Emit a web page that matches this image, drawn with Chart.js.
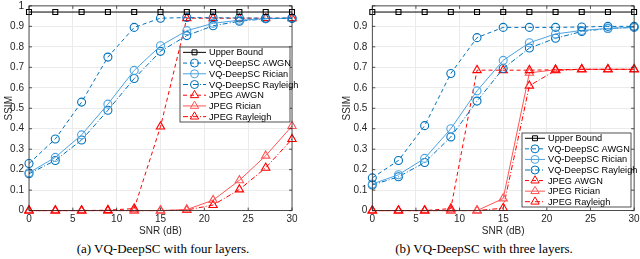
<!DOCTYPE html>
<html>
<head>
<meta charset="utf-8">
<script src="https://cdn.jsdelivr.net/npm/chart.js@4"></script>
<style>
  body { margin: 0; background: #fff; width: 640px; height: 259px; position: relative; overflow: hidden; }
  .plot { position: absolute; top: 0; width: 320px; height: 240px; }
  .cap { position: absolute; top: 241px; font: 13px "Liberation Serif", serif; color: #000; white-space: nowrap; transform: translateX(-50%); }
</style>
</head>
<body>
<div class="plot" style="left:0"><canvas id="chartA" width="320" height="240"></canvas></div>
<div class="plot" style="left:320px"><canvas id="chartB" width="320" height="240"></canvas></div>
<div class="cap" style="left:163px">(a) VQ-DeepSC with four layers.</div>
<div class="cap" style="left:484px">(b) VQ-DeepSC with three layers.</div>
<script>
const snr = [0, 3, 6, 9, 12, 15, 18, 21, 24, 27, 30];
const seriesNames = ['Upper Bound', 'VQ-DeepSC AWGN', 'VQ-DeepSC Rician', 'VQ-DeepSC Rayleigh', 'JPEG AWGN', 'JPEG Rician', 'JPEG Rayleigh'];

// (a) four layers
const upperA = [0.97, 0.97, 0.97, 0.97, 0.97, 0.97, 0.97, 0.97, 0.97, 0.97, 0.97];
const vqAwgnA = [0.23, 0.35, 0.53, 0.75, 0.895, 0.94, 0.943, 0.942, 0.941, 0.94, 0.94];
const vqRicianA = [0.185, 0.26, 0.37, 0.52, 0.685, 0.805, 0.879, 0.915, 0.93, 0.938, 0.94];
const vqRayleighA = [0.18, 0.245, 0.345, 0.49, 0.645, 0.778, 0.855, 0.903, 0.925, 0.937, 0.94];
const jpegAwgnA = [0, 0, 0, 0.002, 0.01, 0.41, 0.94, 0.94, 0.94, 0.94, 0.94];
const jpegRicianA = [0, 0, 0, 0, 0, 0, 0.005, 0.051, 0.148, 0.268, 0.413];
const jpegRayleighA = [0, 0, 0, 0, 0, 0, 0.003, 0.027, 0.103, 0.209, 0.349];

// (b) three layers
const upperB = [0.97, 0.97, 0.97, 0.97, 0.97, 0.97, 0.97, 0.97, 0.97, 0.97, 0.97];
const vqAwgnB = [0.16, 0.245, 0.415, 0.67, 0.845, 0.895, 0.895, 0.895, 0.897, 0.9, 0.9];
const vqRicianB = [0.13, 0.175, 0.255, 0.4, 0.585, 0.734, 0.82, 0.863, 0.88, 0.89, 0.895];
const vqRayleighB = [0.125, 0.165, 0.235, 0.36, 0.535, 0.694, 0.794, 0.842, 0.875, 0.89, 0.895];
const jpegAwgnB = [0, 0, 0, 0.01, 0.686, 0.686, 0.686, 0.688, 0.69, 0.69, 0.69];
const jpegRicianB = [0, 0, 0, 0, 0, 0.059, 0.673, 0.688, 0.69, 0.69, 0.69];
const jpegRayleighB = [0, 0, 0, 0, 0, 0.012, 0.61, 0.685, 0.69, 0.69, 0.69];

const styles = [
  { color: '#000000', dash: [], point: 'rect', r: 3.5 },
  { color: '#0072BD', dash: [4, 3], point: 'circle', r: 4 },
  { color: '#4DA3E0', dash: [], point: 'circle', r: 4 },
  { color: '#0072BD', dash: [5, 2, 1, 2], point: 'circle', r: 4 },
  { color: '#FF0000', dash: [4, 3], point: 'triangle', r: 4.8 },
  { color: '#FF5555', dash: [], point: 'triangle', r: 4.8 },
  { color: '#FF0000', dash: [5, 2, 1, 2], point: 'triangle', r: 4.8 }
];

function makeDatasets(series) {
  return series.map((vals, i) => ({
    label: seriesNames[i],
    data: vals.map((v, k) => ({ x: snr[k], y: v })),
    borderColor: styles[i].color,
    borderWidth: 1,
    borderDash: styles[i].dash,
    pointStyle: styles[i].point,
    pointRadius: styles[i].r,
    pointBorderColor: styles[i].color,
    pointBackgroundColor: 'rgba(0,0,0,0)',
    pointBorderWidth: 1.1,
    tension: 0,
    clip: false
  }));
}

// box, inward ticks and inset legend, MATLAB style
const boxPlugin = {
  id: 'box',
  afterDraw(chart, args, opts) {
    const ctx = chart.ctx, a = chart.chartArea;
    const xs = chart.scales.x, ys = chart.scales.y;
    ctx.save();
    ctx.strokeStyle = '#262626';
    ctx.lineWidth = 0.8;
    ctx.setLineDash([]);
    ctx.strokeRect(a.left, a.top, a.right - a.left, a.bottom - a.top);
    ctx.beginPath();
    xs.ticks.forEach(t => {
      const px = xs.getPixelForValue(t.value);
      ctx.moveTo(px, a.bottom); ctx.lineTo(px, a.bottom - 3);
      ctx.moveTo(px, a.top); ctx.lineTo(px, a.top + 3);
    });
    ys.ticks.forEach(t => {
      const py = ys.getPixelForValue(t.value);
      ctx.moveTo(a.left, py); ctx.lineTo(a.left + 3, py);
      ctx.moveTo(a.right, py); ctx.lineTo(a.right - 3, py);
    });
    ctx.stroke();

    // legend
    const L = opts.legend;
    ctx.fillStyle = '#fff';
    ctx.fillRect(L.x, L.y, L.w, L.h);
    ctx.strokeStyle = '#262626';
    ctx.lineWidth = 0.8;
    ctx.strokeRect(L.x, L.y, L.w, L.h);
    const rowH = L.h / 7;
    ctx.font = '9.2px "Liberation Sans", Arial, sans-serif';
    ctx.textBaseline = 'middle';
    chart.data.datasets.forEach((ds, i) => {
      const cy = L.y + rowH * (i + 0.5);
      const x0 = L.x + 3, x1 = L.x + L.text - 3, xm = (x0 + x1) / 2;
      ctx.strokeStyle = ds.borderColor;
      ctx.lineWidth = 1;
      ctx.setLineDash(ds.borderDash);
      ctx.beginPath(); ctx.moveTo(x0, cy); ctx.lineTo(x1, cy); ctx.stroke();
      ctx.setLineDash([]);
      ctx.fillStyle = 'rgba(0,0,0,0)';
      Chart.helpers.drawPoint(ctx, { pointStyle: ds.pointStyle, radius: ds.pointRadius, rotation: 0, borderWidth: 1 }, xm, cy);
      ctx.fillStyle = '#000';
      ctx.fillText(ds.label, L.x + L.text, cy + 0.5);
    });
    ctx.restore();
  }
};

function makeChart(id, series, opt) {
  return new Chart(document.getElementById(id), {
    type: 'line',
    data: { datasets: makeDatasets(series) },
    plugins: [boxPlugin],
    options: {
      responsive: false,
      animation: false,
      layout: { padding: { left: opt.padLeft, right: opt.padRight, top: opt.padTop, bottom: 0 } },
      plugins: {
        legend: { display: false },
        tooltip: { enabled: false },
        box: { legend: opt.legend }
      },
      scales: {
        x: {
          type: 'linear', min: 0, max: 30,
          grid: { color: '#ebebeb', drawTicks: false },
          border: { display: false },
          ticks: { stepSize: 5, padding: 3, color: '#262626', font: { family: 'Liberation Sans', size: 10 }, maxRotation: 0 },
          title: { display: true, text: 'SNR (dB)', color: '#262626', font: { family: 'Liberation Sans', size: 10 }, padding: { top: 0, bottom: 3 } },
          afterFit(s) { s.height = opt.xHeight; s.paddingLeft = 0; s.paddingRight = 0; }
        },
        y: {
          min: 0, max: 1,
          grid: { color: '#ebebeb', drawTicks: false },
          border: { display: false },
          ticks: {
            stepSize: 0.1, padding: 5, color: '#262626', font: { family: 'Liberation Sans', size: 10 },
            callback: v => (v > 0.95 && !opt.showOne) ? '' : String(Math.round(v * 10) / 10)
          },
          title: { display: true, text: 'SSIM', color: '#262626', font: { family: 'Liberation Sans', size: 10 }, padding: { top: 3, bottom: 0 } },
          afterFit(s) { s.width = opt.yWidth; s.paddingTop = 0; s.paddingBottom = 0; }
        }
      }
    }
  });
}

makeChart('chartA', [upperA, vqAwgnA, vqRicianA, vqRayleighA, jpegAwgnA, jpegRicianA, jpegRayleighA], {
  padLeft: 0, padRight: 28, padTop: 3, yWidth: 29, xHeight: 29.4, showOne: true,
  legend: { x: 180, y: 47, w: 110, h: 75, text: 29 }
});
makeChart('chartB', [upperB, vqAwgnB, vqRicianB, vqRayleighB, jpegAwgnB, jpegRicianB, jpegRayleighB], {
  padLeft: 18, padRight: 5, padTop: 4, yWidth: 34.3, xHeight: 29.4, showOne: false,
  legend: { x: 202, y: 133, w: 109, h: 74, text: 26 }
});
</script>
</body>
</html>
